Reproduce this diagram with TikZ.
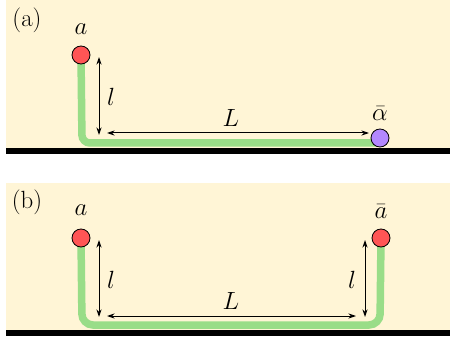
\documentclass[tikz,border=0pt]{standalone}
\usetikzlibrary{arrows.meta}
\definecolor{bg}{HTML}{FFF5D6}
\definecolor{rope}{HTML}{99DD88}
\definecolor{redball}{HTML}{FF5555}
\definecolor{purpleball}{HTML}{B388FF}
\begin{document}
\begin{tikzpicture}[x=1pt,y=-1pt,
  ball/.style={circle,draw=black,line width=0.8pt,minimum size=18pt,inner sep=0pt},
  lab/.style={font=\Huge,inner sep=0pt},
  dim/.style={{Stealth[length=7.5pt,width=5pt]}-{Stealth[length=7.5pt,width=5pt]},line width=1pt},
  ropeline/.style={rope,line width=7.5pt,rounded corners=8pt},
  ground/.style={fill=black}]
\useasboundingbox (0,0) rectangle (450,342);
\fill[white] (0,0) rectangle (450,342);
% panel (a)
\fill[bg] (6,0) rectangle (450,148);
\fill[ground] (6,148) rectangle (450,154);
\node[lab] (pa) at (27,20) {(a)};
\coordinate (a1c) at (81,55);
\coordinate (c1) at (82,143);
\coordinate (e1) at (376,143);
\draw[ropeline] (a1c) -- (c1) -- (e1);
\node[ball,fill=redball] (a1) at (81,55) {};
\node[ball,fill=purpleball] (b1) at (380,138) {};
\node[lab] (la1) at (81,29) {$a$};
\node[lab] (lb1) at (380,114) {$\bar\alpha$};
\coordinate (v1t) at (99,57);
\coordinate (v1b) at (99,135);
\draw[dim] (v1t) -- (v1b);
\node[lab] (l1) at (111,97) {$l$};
\coordinate (h1l) at (107,133);
\coordinate (h1r) at (369,133);
\draw[dim] (h1l) -- (h1r);
\node[lab] (L1) at (231,118) {$L$};
% panel (b)
\fill[bg] (6,183) rectangle (450,330);
\fill[ground] (6,330) rectangle (450,336);
\node[lab] (pb) at (27,202) {(b)};
\coordinate (a2c) at (81,238);
\coordinate (b2c) at (381,238);
\coordinate (c2l) at (82,325);
\coordinate (c2r) at (380,325);
\draw[ropeline,rounded corners=11pt] (a2c) -- (c2l) -- (c2r) -- (b2c);
\node[ball,fill=redball] (a2) at (a2c) {};
\node[ball,fill=redball] (b2) at (b2c) {};
\node[lab] (la2) at (81,210) {$a$};
\node[lab] (lb2) at (381,212) {$\bar a$};
\coordinate (v2t) at (99,240);
\coordinate (v2b) at (99,317);
\draw[dim] (v2t) -- (v2b);
\node[lab] (l2) at (111,280) {$l$};
\coordinate (v3t) at (365,240);
\coordinate (v3b) at (365,317);
\draw[dim] (v3t) -- (v3b);
\node[lab] (l3) at (352,280) {$l$};
\coordinate (h2l) at (107,316);
\coordinate (h2r) at (356,316);
\draw[dim] (h2l) -- (h2r);
\node[lab] (L2) at (231,301) {$L$};
\end{tikzpicture}
\end{document}
